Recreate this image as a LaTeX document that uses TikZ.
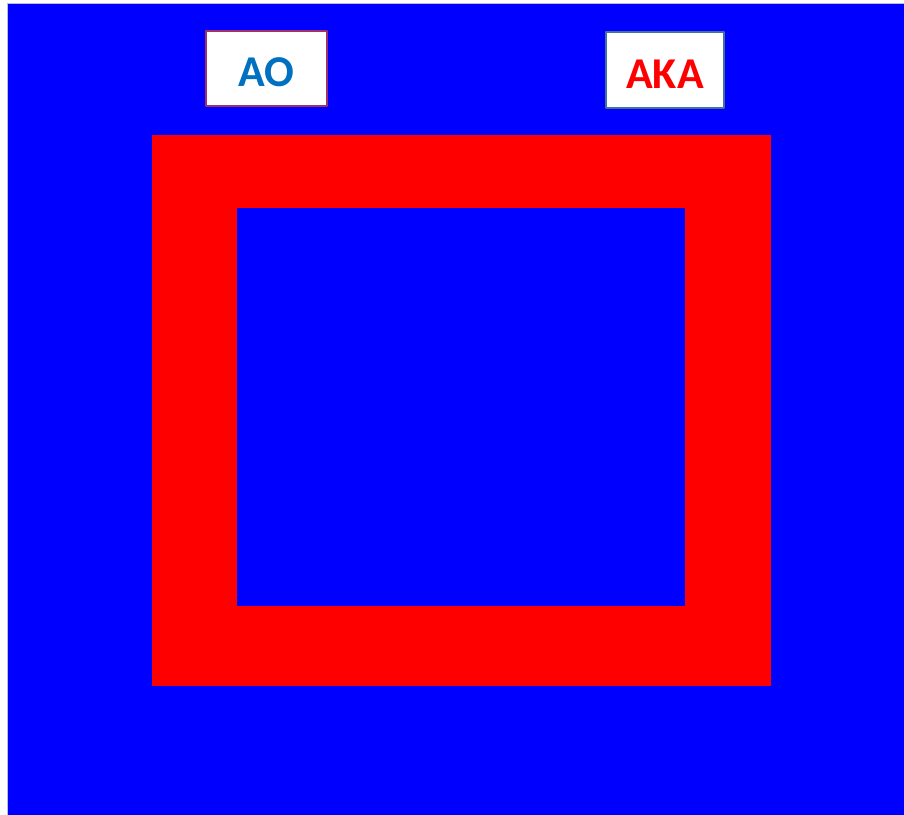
\documentclass[tikz,border=0pt]{standalone}
\usepackage{fontspec}
\setmainfont{Carlito}
\definecolor{aoblue}{HTML}{0070C0}
\definecolor{aoframe}{HTML}{A0306A}
\definecolor{akaframe}{HTML}{41719C}
\begin{document}
\begin{tikzpicture}[x=1pt, y=-1pt, line join=round]
	\tikzset{tag/.style={fill=white, line width=2.5pt, font=\fontsize{44}{44}\selectfont\bfseries, inner sep=0pt}}
	\useasboundingbox (0,0) rectangle (904,814);
	\fill[white] (0,0) rectangle (904,814);
	\draw[gray!50, fill=blue] (7,3) rectangle (905,815);
	\coordinate (R1) at (152,135); \coordinate (R2) at (771,686);
	\coordinate (B1) at (237,208); \coordinate (B2) at (685,606);
	\fill[red] (R1) rectangle (R2);
	\fill[blue] (B1) rectangle (B2);
	\draw[tag, draw=aoframe] (206,31) rectangle (327,106);
	\draw[tag, draw=akaframe] (606,32) rectangle (724,108);
	\node[tag, text=aoblue] (ao) at (266.5,72) {AO};
	\node[tag, text=red] (aka) at (665,74) {AKA};
\end{tikzpicture}
\end{document}
